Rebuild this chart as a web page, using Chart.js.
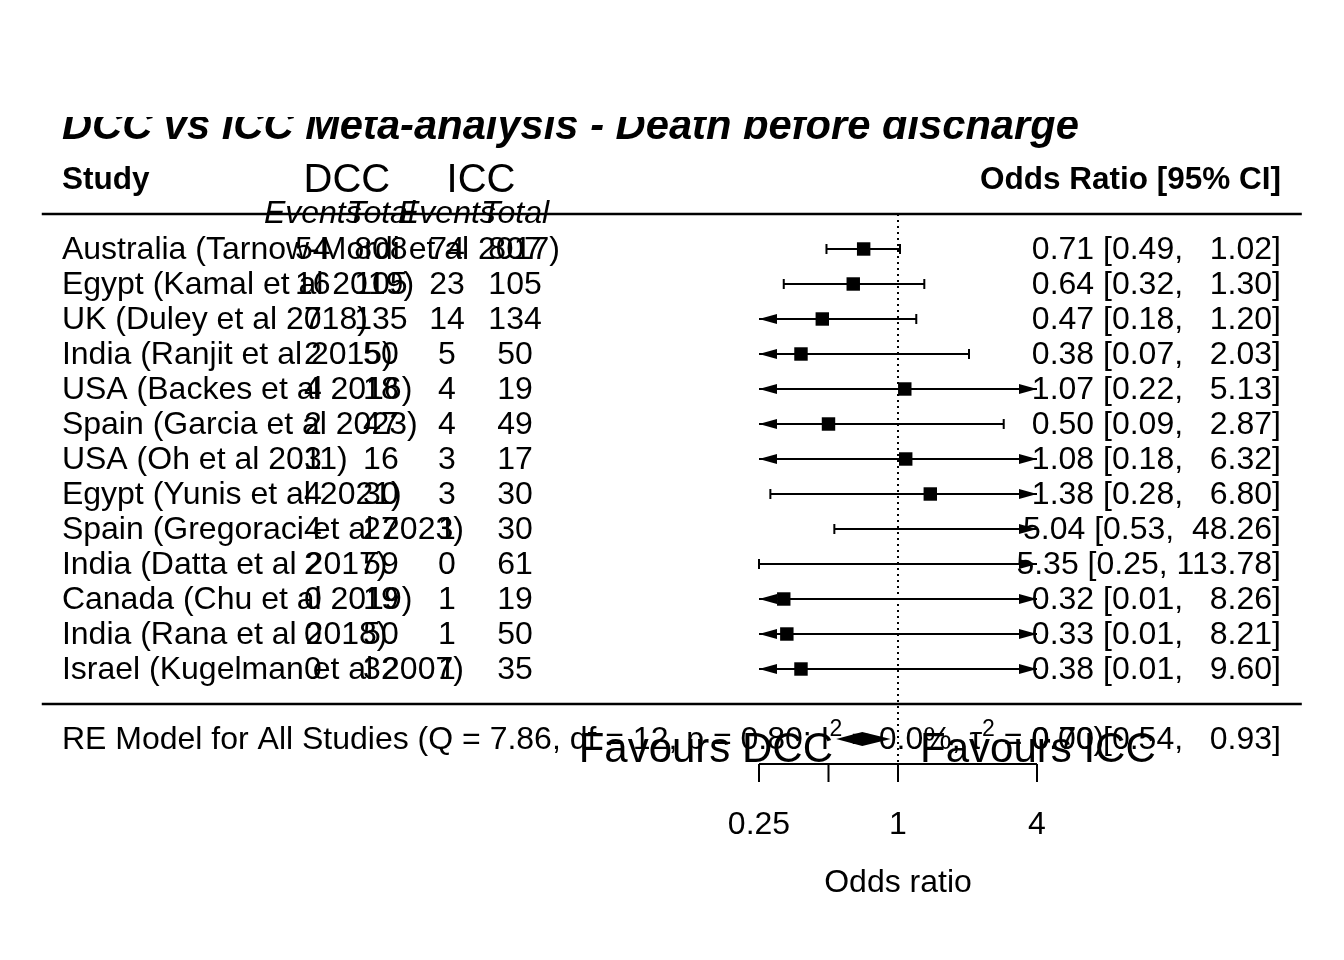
<!DOCTYPE html>
<html>
<head>
<meta charset="utf-8">
<script src="https://cdn.jsdelivr.net/npm/chart.js@4.4.1/dist/chart.umd.min.js"></script>
<style>
  html, body { margin: 0; padding: 0; background: #fff; }
  #wrap { width: 1344px; height: 960px; position: relative; }
</style>
</head>
<body>
<div id="wrap"><canvas id="forest"></canvas></div>
<script>
const studies = [
  "Australia (Tarnow-Mordi et al 2017)",
  "Egypt (Kamal et al 2019)",
  "UK (Duley et al 2018)",
  "India (Ranjit et al 2015)",
  "USA (Backes et al 2016)",
  "Spain (Garcia et al 2023)",
  "USA (Oh et al 2011)",
  "Egypt (Yunis et al 2021)",
  "Spain (Gregoraci et al 2023)",
  "India (Datta et al 2017)",
  "Canada (Chu et al 2019)",
  "India (Rana et al 2018)",
  "Israel (Kugelman et al 2007)"
];
const dccEvents = [54, 16, 7, 2, 4, 2, 3, 4, 4, 2, 0, 0, 0];
const dccTotal  = [808, 105, 135, 50, 18, 47, 16, 30, 27, 59, 19, 50, 32];
const iccEvents = [74, 23, 14, 5, 4, 4, 3, 3, 1, 0, 1, 1, 1];
const iccTotal  = [807, 105, 134, 50, 19, 49, 17, 30, 30, 61, 19, 50, 35];
const oddsRatio = [0.71, 0.64, 0.47, 0.38, 1.07, 0.50, 1.08, 1.38, 5.04, 5.35, 0.32, 0.33, 0.38];
const ciLower   = [0.49, 0.32, 0.18, 0.07, 0.22, 0.09, 0.18, 0.28, 0.53, 0.25, 0.01, 0.01, 0.01];
const ciUpper   = [1.02, 1.30, 1.20, 2.03, 5.13, 2.87, 6.32, 6.80, 48.26, 113.78, 8.26, 8.21, 9.60];
const summaryOR = [0.70, 0.54, 0.93]; // estimate, lower, upper
const summaryText = ["RE Model for All Studies (Q = 7.86, df = 12, p = 0.80; I", "2", " = 0.0%, \u03c4", "2", " = 0.00)"];
const tickValues = [0.25, 0.5, 1, 4];
const tickLabels = ["0.25", "", "1", "4"];

const FONT = '"Liberation Sans", Arial, sans-serif';
const k = studies.length;
const rows = studies.map((s, i) => k - i);
const lim = [Math.log2(tickValues[0]), Math.log2(tickValues[tickValues.length - 1])];

// text columns, in log2(OR) units like metafor's xlim
const xlim = [-12.32, 5.81];
const colLabel = -12.03;
const colIlab = [-8.42, -7.44, -6.49, -5.51];
const colRight = 5.51;

const pad = (s, w) => s.padStart(w);
const hiW = Math.max(...ciUpper.map(v => v.toFixed(2).length));
const ciText = (o, l, h) => `${o.toFixed(2)} [${l.toFixed(2)}, ${pad(h.toFixed(2), hiW)}]`;

const squares = [];
oddsRatio.forEach((v, i) => {
  const lx = Math.log2(v);
  if (lx >= lim[0] && lx <= lim[1]) squares.push({ x: lx, y: rows[i] });
});

const forestPlugin = {
  id: 'forest',
  beforeDatasetsDraw(chart) {
    const { ctx, chartArea: a, scales: { x, y } } = chart;
    ctx.save();
    ctx.strokeStyle = '#000';
    ctx.fillStyle = '#000';

    // horizontal rules
    ctx.lineWidth = 2.5;
    [k + 1, 0].forEach(r => {
      ctx.beginPath();
      ctx.moveTo(x.getPixelForValue(xlim[0]), y.getPixelForValue(r));
      ctx.lineTo(x.getPixelForValue(xlim[1]), y.getPixelForValue(r));
      ctx.stroke();
    });

    // reference line at OR = 1
    ctx.lineWidth = 2;
    ctx.setLineDash([2, 4]);
    ctx.beginPath();
    ctx.moveTo(x.getPixelForValue(0), y.getPixelForValue(k + 1));
    ctx.lineTo(x.getPixelForValue(0), a.bottom);
    ctx.stroke();
    ctx.setLineDash([]);

    // confidence intervals
    const arrow = (px, py, dir) => {
      ctx.beginPath();
      ctx.moveTo(px, py);
      ctx.lineTo(px - dir * 18, py - 5);
      ctx.lineTo(px - dir * 18, py + 5);
      ctx.closePath();
      ctx.fill();
    };
    ctx.lineWidth = 2;
    rows.forEach((r, i) => {
      const lo = Math.log2(ciLower[i]), hi = Math.log2(ciUpper[i]);
      const py = y.getPixelForValue(r);
      const x0 = x.getPixelForValue(Math.max(lo, lim[0]));
      const x1 = x.getPixelForValue(Math.min(hi, lim[1]));
      ctx.beginPath();
      ctx.moveTo(x0, py);
      ctx.lineTo(x1, py);
      ctx.stroke();
      if (lo < lim[0] - 1e-9) arrow(x0, py, -1);
      else { ctx.beginPath(); ctx.moveTo(x0, py - 5); ctx.lineTo(x0, py + 5); ctx.stroke(); }
      if (hi > lim[1] + 1e-9) arrow(x1, py, 1);
      else { ctx.beginPath(); ctx.moveTo(x1, py - 5); ctx.lineTo(x1, py + 5); ctx.stroke(); }
    });

    // summary diamond
    const sy = -1, dh = 0.2;
    ctx.beginPath();
    ctx.moveTo(x.getPixelForValue(Math.log2(summaryOR[1])), y.getPixelForValue(sy));
    ctx.lineTo(x.getPixelForValue(Math.log2(summaryOR[0])), y.getPixelForValue(sy + dh));
    ctx.lineTo(x.getPixelForValue(Math.log2(summaryOR[2])), y.getPixelForValue(sy));
    ctx.lineTo(x.getPixelForValue(Math.log2(summaryOR[0])), y.getPixelForValue(sy - dh));
    ctx.closePath();
    ctx.fill();

    // x axis
    ctx.lineWidth = 2;
    ctx.beginPath();
    ctx.moveTo(x.getPixelForValue(lim[0]), a.bottom);
    ctx.lineTo(x.getPixelForValue(lim[1]), a.bottom);
    tickValues.forEach(t => {
      const px = x.getPixelForValue(Math.log2(t));
      ctx.moveTo(px, a.bottom);
      ctx.lineTo(px, a.bottom + 18);
    });
    ctx.stroke();
    ctx.restore();
  },
  afterDatasetsDraw(chart) {
    const { ctx, chartArea: a, scales: { x, y } } = chart;
    ctx.save();
    ctx.fillStyle = '#000';
    ctx.textBaseline = 'middle';
    const dy = 1.5; // glyph centre vs em-box middle
    const txt = (s, vx, vy, align, font) => {
      ctx.font = font;
      ctx.textAlign = align;
      ctx.fillText(s, x.getPixelForValue(vx), y.getPixelForValue(vy) + dy);
    };
    const reg = `32px ${FONT}`;

    // headers
    txt("Study", colLabel, k + 2, 'left', `bold 31.5px ${FONT}`);
    txt("Odds Ratio [95% CI]", colRight, k + 2, 'right', `bold 31.5px ${FONT}`);
    txt("DCC", (colIlab[0] + colIlab[1]) / 2, k + 2, 'center', `40px ${FONT}`);
    txt("ICC", (colIlab[2] + colIlab[3]) / 2, k + 2, 'center', `40px ${FONT}`);
    ["Events", "Total", "Events", "Total"].forEach((s, j) =>
      txt(s, colIlab[j], k + 1.05, 'center', `italic 32px ${FONT}`));

    // study rows
    rows.forEach((r, i) => {
      txt(studies[i], colLabel, r, 'left', reg);
      [dccEvents, dccTotal, iccEvents, iccTotal].forEach((arr, j) =>
        txt(String(arr[i]), colIlab[j], r, 'center', reg));
      txt(ciText(oddsRatio[i], ciLower[i], ciUpper[i]), colRight, r, 'right', reg);
    });

    // summary row with superscripts
    let px = x.getPixelForValue(colLabel);
    const py = y.getPixelForValue(-1) + dy;
    ctx.textAlign = 'left';
    summaryText.forEach((s, j) => {
      const sup = j % 2 === 1;
      ctx.font = sup ? `23px ${FONT}` : reg;
      ctx.fillText(s, px, sup ? py - 11 : py);
      px += ctx.measureText(s).width;
    });
    txt(ciText(summaryOR[0], summaryOR[1], summaryOR[2]), colRight, -1, 'right', reg);

    // favours labels
    txt("Favours DCC", -0.935, -1.28, 'right', `42px ${FONT}`);
    txt("Favours ICC", 0.317, -1.28, 'left', `42px ${FONT}`);

    // axis labels
    ctx.font = reg;
    ctx.textAlign = 'center';
    tickValues.forEach((t, j) => {
      ctx.fillText(tickLabels[j], x.getPixelForValue(Math.log2(t)), a.bottom + 61);
    });
    ctx.fillText("Odds ratio", x.getPixelForValue(0), a.bottom + 119);

    // title, clipped at the top of the plot region
    ctx.beginPath();
    ctx.rect(0, a.top, chart.width, chart.height);
    ctx.clip();
    ctx.font = `italic bold 41.7px ${FONT}`;
    ctx.textAlign = 'left';
    ctx.textBaseline = 'alphabetic';
    ctx.fillText("DCC vs ICC Meta-analysis - Death before discharge", x.getPixelForValue(colLabel), a.top + 22);
    ctx.restore();
  }
};

new Chart(document.getElementById('forest'), {
  type: 'scatter',
  data: {
    datasets: [{
      label: 'Odds ratio',
      data: squares,
      pointStyle: 'rect',
      pointRadius: 9.5,
      pointHoverRadius: 9.5,
      backgroundColor: '#000',
      borderColor: '#000',
      borderWidth: 0
    }]
  },
  options: {
    responsive: true,
    maintainAspectRatio: false,
    devicePixelRatio: 1,
    animation: false,
    events: [],
    layout: { padding: { left: 759, right: 307, top: 117, bottom: 196 } },
    plugins: { legend: { display: false }, tooltip: { enabled: false } },
    scales: {
      x: { type: 'linear', min: lim[0], max: lim[1], display: false },
      y: { type: 'linear', min: -1.714, max: 16.771, display: false }
    }
  },
  plugins: [forestPlugin]
});
</script>
</body>
</html>
